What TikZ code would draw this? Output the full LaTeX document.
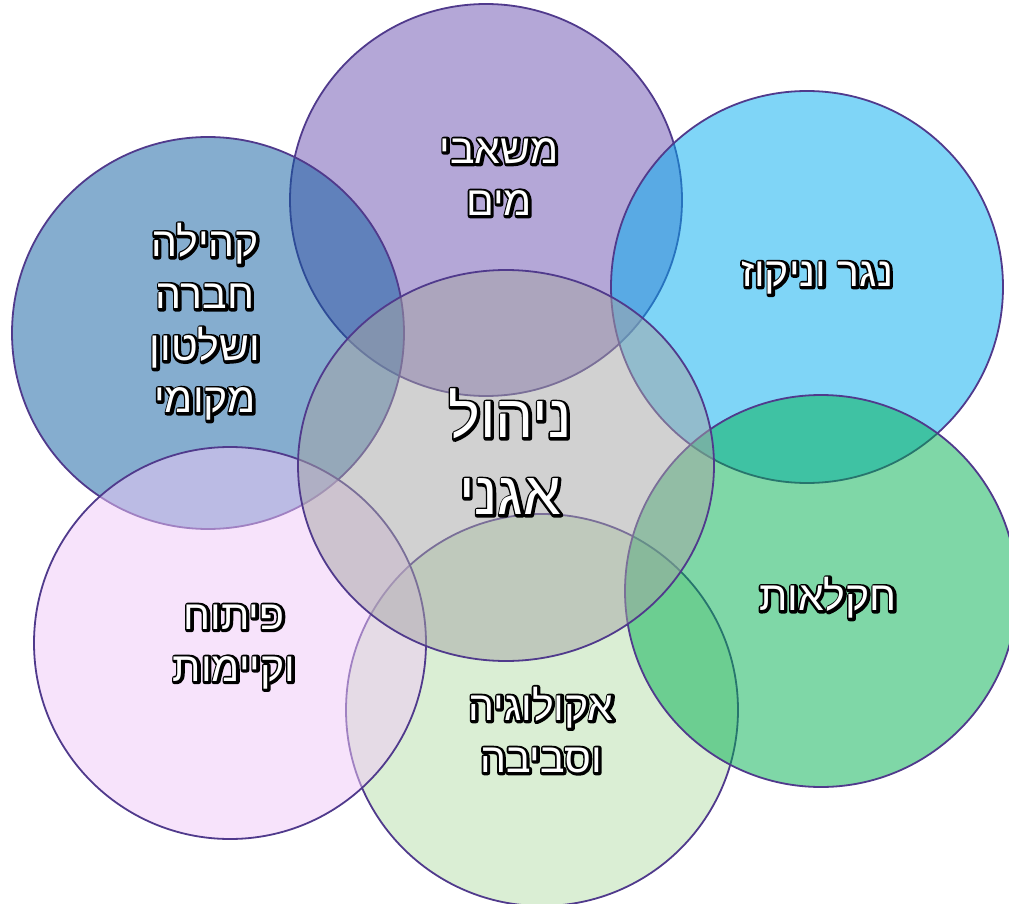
\documentclass[tikz,border=0pt]{standalone}
\usepackage{fontspec}
\newfontfamily\heb[Script=Hebrew]{Liberation Sans}
\TeXXeTstate=1
\definecolor{cPurple}{HTML}{6B51B1}
\definecolor{cCyan}{HTML}{00ADF1}
\definecolor{cGreen}{HTML}{00B050}
\definecolor{cLight}{HTML}{B7DFAB}
\definecolor{cPink}{HTML}{F1C9F9}
\definecolor{cSteel}{HTML}{0D5DA1}
\definecolor{cGray}{HTML}{A5A5A5}
\definecolor{cLine}{HTML}{503A8C}
\newcommand\olt[1]{\hbox{\setbox0\hbox{\beginR #1\endR}%
  \rlap{\kern0.6pt\raise-0.6pt\hbox{\color{black}\special{pdf:literal direct q 1 Tr 5 w 1 j 1 J}\copy0\special{pdf:literal direct Q}}}%
  {\color{white}\copy0}}}
\tikzset{
  venn/.style={fill=#1, fill opacity=0.5, draw=cLine, draw opacity=1, line width=1.8pt},
  lbl/.style={align=center, inner sep=0pt, text=white,
    font=\heb\fontsize{41}{52}\selectfont},
  biglbl/.style={align=center, inner sep=0pt, text=white,
    font=\heb\fontsize{60}{77}\selectfont},
}
\begin{document}
\begin{tikzpicture}[x=1pt,y=-1pt]
\useasboundingbox (0,0) rectangle (1009,904);
\fill[white] (0,0) rectangle (1009,904);
\path[venn=cLight]  (542,710) circle[radius=196pt];
\path[venn=cPurple] (486,200) circle[radius=196pt];
\path[venn=cSteel]  (208,333) circle[radius=196pt];
\path[venn=cCyan]   (807,287) circle[radius=196pt];
\path[venn=cGreen]  (821,591) circle[radius=196pt];
\path[venn=cPink]   (230,643) circle[radius=196pt];
\path[venn=cGray]   (506,465.5) ellipse[x radius=208pt, y radius=195.5pt];
\node[lbl] (water) at (499,177) {\olt{משאבי}\\\olt{מים}};
\node[lbl] (drain) at (817,278) {\olt{נגר וניקוז}};
\node[lbl] (comm) at (205,322) {\olt{קהילה}\\\olt{חברה}\\\olt{ושלטון}\\\olt{מקומי}};
\node[biglbl] (center) at (510,452) {\olt{ניהול}\\\olt{אגני}};
\node[lbl] (agri) at (828,598) {\olt{חקלאות}};
\node[lbl] (dev) at (234,647) {\olt{פיתוח}\\\olt{וקיימות}};
\node[lbl] (eco) at (541,730) {\olt{אקולוגיה}\\\olt{וסביבה}};
\end{tikzpicture}
\end{document}
